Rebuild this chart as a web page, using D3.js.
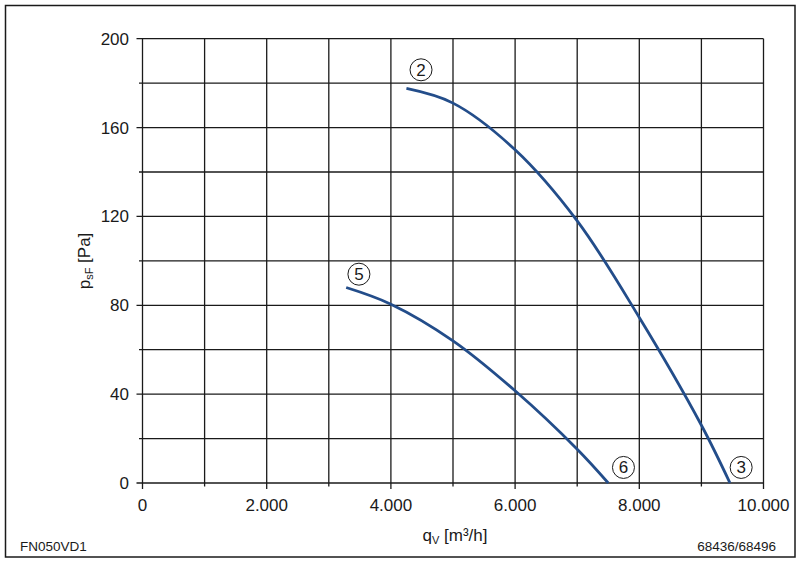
<!DOCTYPE html>
<html>
<head>
<meta charset="utf-8">
<script src="https://cdn.jsdelivr.net/npm/d3@7"></script>
<style>
body { margin: 0; background: #fff; }
text { font-family: "Liberation Sans", Arial, sans-serif; fill: #1a1a1a; }
</style>
</head>
<body>
<div id="main_div"></div>
<script>
// curve data: q_V [m3/h], p_sF [Pa]
var curve_a = [[4250,177.6],[5000,171],[6000,150],[7000,118],[8000,74.5],[9000,26],[9460,0]];
var curve_b = [[3280,88],[4000,80.5],[5000,64],[6000,41.5],[7000,15.2],[7500,0]];
var marks = [{n:"2",x:4485,y:186},{n:"5",x:3485,y:94},{n:"6",x:7745,y:7},{n:"3",x:9640,y:7}];
var x_ticks = [0,2000,4000,6000,8000,10000];
var x_labels = ["0","2.000","4.000","6.000","8.000","10.000"];
var y_ticks = [0,40,80,120,160,200];

var W = 804, H = 566;
var x_scale = d3.scaleLinear().domain([0, 10000]).range([142.5, 763.5]);
var y_scale = d3.scaleLinear().domain([0, 200]).range([483, 38.7]);

var svg = d3.select("#main_div").append("svg").attr("width", W).attr("height", H);

// frame
svg.append("rect").attr("x", 5.5).attr("y", 5.5).attr("width", 789.5).attr("height", 551.5)
    .attr("fill", "none").attr("stroke", "#1a1a1a").attr("stroke-width", 1.5);

// grid
var grid = svg.append("g").attr("stroke", "#1a1a1a").attr("stroke-width", 1.3);
grid.selectAll(".gx").data(d3.range(0, 10001, 1000)).enter().append("line")
    .attr("x1", function(d){ return x_scale(d); }).attr("x2", function(d){ return x_scale(d); })
    .attr("y1", y_scale(200)).attr("y2", function(d){ return y_scale(0) + (d % 2000 == 0 ? 6 : 3.5); });
grid.selectAll(".gy").data(d3.range(0, 201, 20)).enter().append("line")
    .attr("y1", function(d){ return y_scale(d); }).attr("y2", function(d){ return y_scale(d); })
    .attr("x1", function(d){ return x_scale(0) - (d % 40 == 0 ? 6 : 3.5); }).attr("x2", x_scale(10000));

// tick labels
svg.selectAll(".xl").data(x_ticks).enter().append("text")
    .attr("x", function(d){ return x_scale(d); }).attr("y", 510.5)
    .attr("text-anchor", "middle").attr("font-size", 17)
    .text(function(d, i){ return x_labels[i]; });
svg.selectAll(".yl").data(y_ticks).enter().append("text")
    .attr("x", 129).attr("y", function(d){ return y_scale(d) + 6; })
    .attr("text-anchor", "end").attr("font-size", 17)
    .text(function(d){ return d; });

// axis titles
var xt = svg.append("text").attr("x", 455).attr("y", 541).attr("text-anchor", "middle").attr("font-size", 17);
xt.append("tspan").text("q");
xt.append("tspan").attr("font-size", 11).attr("dy", 3).text("V");
xt.append("tspan").attr("dy", -3).text(" [m³/h]");

var yt = svg.append("text").attr("transform", "translate(90,261) rotate(-90)").attr("text-anchor", "middle").attr("font-size", 17);
yt.append("tspan").text("p");
yt.append("tspan").attr("font-size", 11).attr("dy", 3).text("sF");
yt.append("tspan").attr("dy", -3).text(" [Pa]");

// footer
svg.append("text").attr("x", 20).attr("y", 551).attr("font-size", 13.5).text("FN050VD1");
svg.append("text").attr("x", 776).attr("y", 551).attr("text-anchor", "end").attr("font-size", 13.5).text("68436/68496");

// curves
var line = d3.line()
    .x(function(d){ return x_scale(d[0]); })
    .y(function(d){ return y_scale(d[1]); })
    .curve(d3.curveCatmullRom);
[curve_a, curve_b].forEach(function(c){
    svg.append("path").attr("d", line(c)).attr("fill", "none")
        .attr("stroke", "#234d8a").attr("stroke-width", 2.8);
});

// circled numbers
var mg = svg.selectAll(".mk").data(marks).enter().append("g")
    .attr("transform", function(d){ return "translate(" + x_scale(d.x) + "," + y_scale(d.y) + ")"; });
mg.append("circle").attr("r", 11).attr("fill", "#fff").attr("stroke", "#1a1a1a").attr("stroke-width", 1);
mg.append("text").attr("text-anchor", "middle").attr("y", 6).attr("font-size", 17).text(function(d){ return d.n; });
</script>
</body>
</html>
